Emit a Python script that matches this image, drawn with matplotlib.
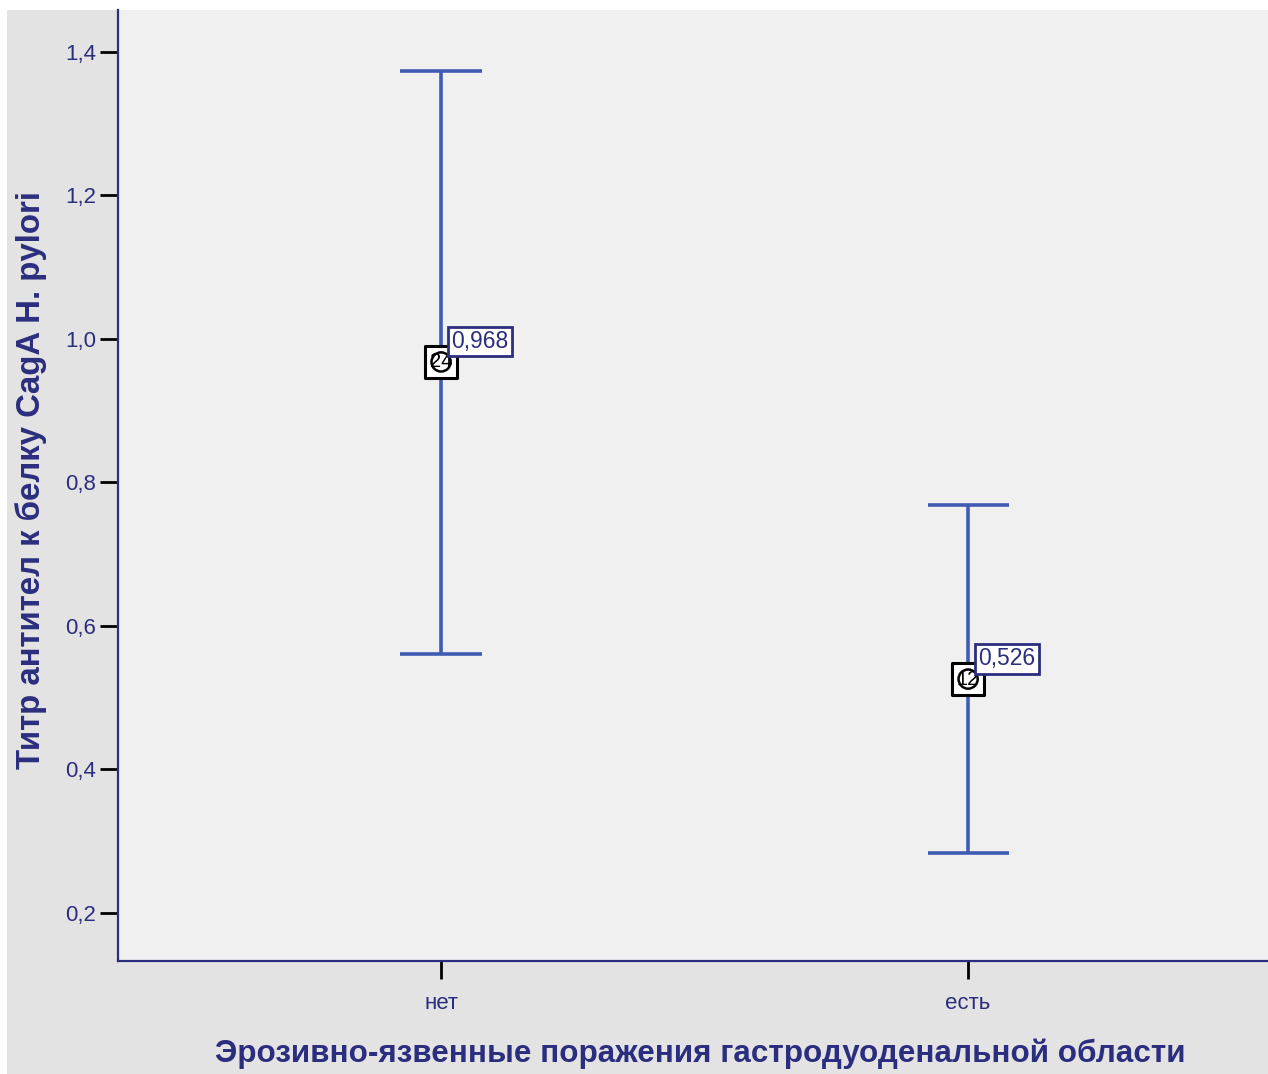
import matplotlib.pyplot as plt
from matplotlib.patches import Rectangle

plt.rcParams['font.family'] = ['Liberation Sans', 'DejaVu Sans']

# group means with 95% CI bounds
groups = ["нет", "есть"]
means = [0.968, 0.526]
ci_low = [0.561, 0.284]
ci_high = [1.374, 0.769]
counts = ["24", "12"]
yticks = [0.2, 0.4, 0.6, 0.8, 1.0, 1.2, 1.4]

navy = "#2b2e7e"
bar_blue = "#3f5bb3"

fig = plt.figure(figsize=(12.68, 10.74), dpi=100, facecolor="white")
fig.patches.append(Rectangle((7 / 1268, 0), 1 - 7 / 1268, 1 - 10 / 1074,
                             transform=fig.transFigure, facecolor="#e3e3e3",
                             edgecolor="none", zorder=-10))

ax = fig.add_axes([118 / 1268, 113 / 1074, 1150 / 1268, 951 / 1074])
ax.set_facecolor("#f0f0f0")

x = list(range(1, len(groups) + 1))
for xi, m, lo, hi in zip(x, means, ci_low, ci_high):
    ax.plot([xi, xi], [lo, hi], color=bar_blue, lw=2.6, solid_capstyle="butt", zorder=2)
    for v in (lo, hi):
        ax.plot([xi - 0.077, xi + 0.077], [v, v], color=bar_blue, lw=2.6,
                solid_capstyle="butt", zorder=2)

# mean markers: open square with case count and circle
ax.scatter(x, means, marker="s", s=500, facecolor="white", edgecolor="black",
           linewidth=2.2, zorder=3)
ax.scatter(x, means, marker="o", s=190, facecolor="none", edgecolor="black",
           linewidth=1.8, zorder=4)
for xi, m, n in zip(x, means, counts):
    ax.text(xi, m, n, ha="center", va="center", fontsize=14.5, color="black", zorder=5)
    ax.annotate(f"{m:.3f}".replace(".", ","), xy=(xi, m), xytext=(10, 9),
                textcoords="offset pixels", ha="left", va="bottom",
                fontsize=16.5, color=navy, zorder=6,
                bbox=dict(boxstyle="square,pad=0.15", facecolor="white",
                          edgecolor=navy, linewidth=2))

ax.set_xlim(0.387, 2.569)
ax.set_ylim(0.1331, 1.4585)
ax.set_xticks(x)
ax.set_xticklabels(groups)
ax.set_yticks(yticks)
ax.set_yticklabels([f"{v:.1f}".replace(".", ",") for v in yticks])

ax.tick_params(axis="both", direction="out", length=13, width=2, color="black",
               labelsize=16, labelcolor=navy, pad=3)
ax.tick_params(axis="x", pad=10)

for side in ("top", "right"):
    ax.spines[side].set_visible(False)
for side in ("left", "bottom"):
    ax.spines[side].set_color(navy)
    ax.spines[side].set_linewidth(1.6)

ax.set_ylabel("Титр антител к белку CagA H. pylori", fontsize=23.8, fontweight="bold",
              color=navy, va="center")
ax.yaxis.set_label_coords(-0.0755, 0.506)
ax.set_xlabel("Эрозивно-язвенные поражения гастродуоденальной области", fontsize=22.6,
              fontweight="bold", color=navy, va="center")
ax.xaxis.set_label_coords(0.506, -0.0978)

fig.savefig("out.png", dpi=100, facecolor=fig.get_facecolor())
